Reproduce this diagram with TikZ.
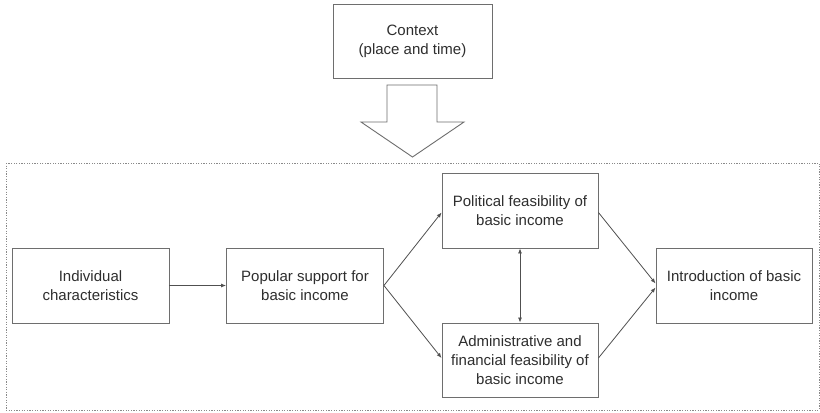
\documentclass[tikz,border=0pt]{standalone}
\usepackage{fontspec}
\setmainfont{Liberation Sans}
\usetikzlibrary{arrows.meta,calc}
\definecolor{boxline}{HTML}{6E6E6E}
\definecolor{lineclr}{HTML}{505050}
\definecolor{txt}{HTML}{2E2E2E}
\definecolor{frameclr}{HTML}{8A8A8A}
\tikzset{
  box/.style={draw=boxline, line width=0.9bp, minimum width=156bp, minimum height=75bp, align=center, inner sep=0pt, text=txt, font=\fontsize{15bp}{19bp}\selectfont},
  arr/.style={draw=lineclr, line width=0.8bp, -{Latex[length=5bp,width=4bp]}},
  darr/.style={draw=lineclr, line width=0.8bp, {Latex[length=5bp,width=4bp]}-{Latex[length=5bp,width=4bp]}},
  frame/.style={draw=frameclr, line width=0.8bp, dash pattern=on 1.2bp off 1.4bp},
  bigarrow/.style={draw=boxline, line width=0.9bp, fill=white}
}
\begin{document}
\begin{tikzpicture}[x=1bp,y=-1bp]
\useasboundingbox (0,0) rectangle (820,412);
\fill[white] (0,0) rectangle (820,412);
% dotted frame
\draw[frame] (6,163) rectangle (819,410);
% context
\node[box, minimum width=159bp, minimum height=74bp] (ctx) at (412.5,41) {Context\\(place and time)};
% big arrow
\draw[bigarrow] (387,85) -- (437,85) -- (437,122) -- (464,122) -- (412.5,157) -- (361,122) -- (387,122) -- cycle;
% nodes
\node[box, minimum width=157bp] (ind) at (90.5,285.5) {Individual\\characteristics};
\node[box, minimum width=157bp] (pop) at (305,285.5) {Popular support for\\basic income};
\node[box] (pol) at (520,210.5) {Political feasibility of\\basic income};
\node[box, minimum height=74bp] (adm) at (520,360) {Administrative and\\financial feasibility of\\basic income};
\node[box] (intro) at (734,285.5) {Introduction of basic\\income};
% connectors
\draw[arr] (ind) -- (pop);
\draw[arr] (pop.east) -- ($(pol.west)+(0,2)$);
\draw[arr] (pop.east) -- ($(adm.west)+(0,-2)$);
\draw[arr] ($(pol.east)+(0,2)$) -- ($(intro.west)+(0,-2)$);
\draw[arr] ($(adm.east)+(0,-2)$) -- ($(intro.west)+(0,2)$);
\draw[darr] (pol.south) -- (adm.north);
\end{tikzpicture}
\end{document}
